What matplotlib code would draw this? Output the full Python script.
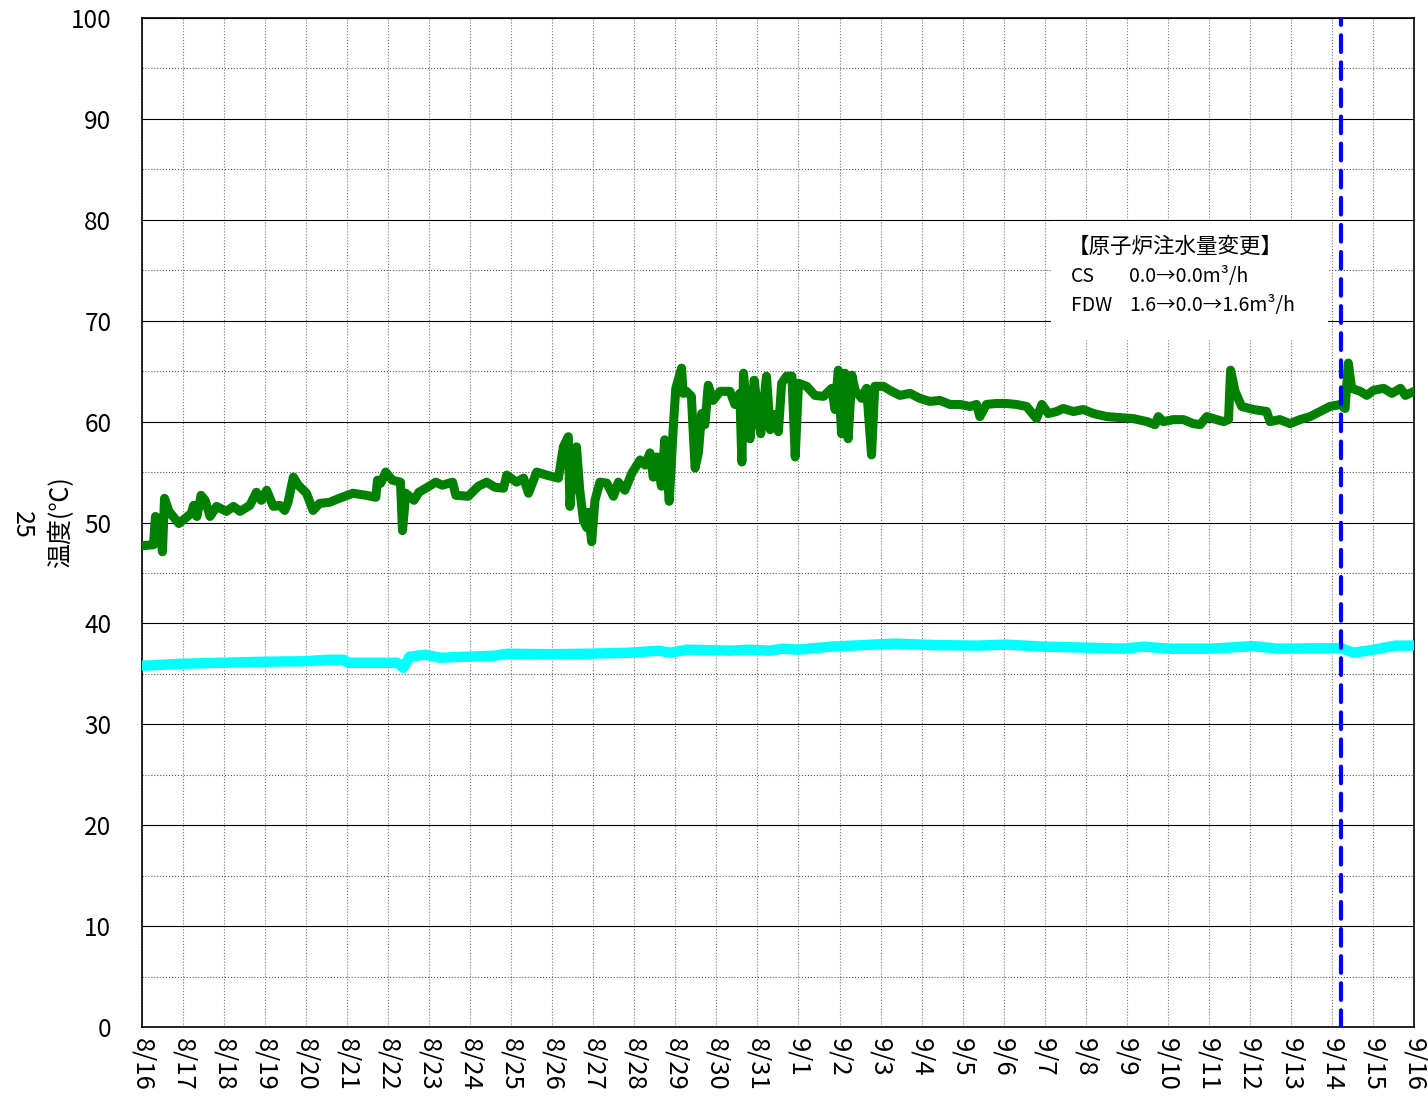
import matplotlib
matplotlib.use('Agg')
import matplotlib.pyplot as plt
from matplotlib.patches import Rectangle

plt.rcParams['font.family'] = ['Noto Sans CJK JP', 'DejaVu Sans']

# days since 8/16 00:00
green_day = [0.0, 0.28, 0.33, 0.41, 0.5, 0.55, 0.66, 0.9, 1.2, 1.26, 1.34, 1.44, 1.54, 1.66, 1.82,
             2.06, 2.23, 2.39, 2.63, 2.79, 2.91, 3.04, 3.2, 3.36, 3.48, 3.56, 3.69, 3.81, 4.01, 4.17,
             4.33, 4.57, 4.81, 5.14, 5.46, 5.7, 5.74, 5.82, 5.94, 6.1, 6.3, 6.35, 6.43, 6.63, 6.75,
             6.96, 7.16, 7.32, 7.57, 7.65, 7.95, 8.2, 8.4, 8.6, 8.81, 8.89, 9.13, 9.3, 9.42, 9.62, 9.86,
             10.15, 10.27,
             10.39, 10.43, 10.51, 10.59, 10.67, 10.76, 10.84, 10.88, 10.96, 11.04, 11.16, 11.33, 11.49,
             11.61, 11.77, 11.94, 12.14, 12.26, 12.38, 12.46, 12.54, 12.66, 12.74, 12.85, 12.95, 13.01,
             13.15, 13.19, 13.27, 13.39, 13.48, 13.56, 13.64, 13.72, 13.8, 13.92, 14.09, 14.33, 14.45,
             14.57, 14.62, 14.66, 14.74, 14.82, 14.92, 15.02, 15.08, 15.22, 15.31, 15.43, 15.51, 15.59,
             15.71, 15.84, 15.92, 16.0, 16.2, 16.4, 16.61, 16.81, 16.89, 16.97, 17.05, 17.13, 17.21,
             17.3, 17.38, 17.54, 17.66, 17.78, 17.86, 18.07, 18.23, 18.47, 18.72, 18.96, 19.2, 19.45,
             19.69, 19.94, 20.18, 20.34, 20.42, 20.58, 20.83, 21.07, 21.31, 21.56, 21.8, 21.93, 22.09,
             22.29, 22.45, 22.7, 22.94, 23.19, 23.51, 23.84, 24.16, 24.49, 24.69, 24.77, 24.89, 25.14,
             25.38, 25.62, 25.79, 25.95, 26.19, 26.36, 26.48, 26.53, 26.64, 26.8, 27.09, 27.41, 27.49,
             27.73, 27.98, 28.22, 28.47, 28.71, 28.95, 29.2, 29.32, 29.4, 29.48, 29.69, 29.85, 30.01,
             30.26, 30.46, 30.67, 30.79, 31.0]
green_val = [47.7, 47.8, 50.6, 50.2, 47.1, 52.4, 51.1, 49.9, 50.9, 51.7, 50.6, 52.7, 52.2, 50.6, 51.6,
             51.1, 51.6, 51.1, 51.7, 53.0, 52.2, 53.2, 51.6, 51.7, 51.2, 52.0, 54.5, 53.7, 52.9, 51.2,
             51.9, 52.0, 52.4, 52.9, 52.7, 52.5, 54.2, 53.9, 55.0, 54.2, 54.0, 49.2, 52.9, 52.2, 53.0,
             53.5, 54.0, 53.7, 54.0, 52.7, 52.6, 53.6, 54.0, 53.5, 53.4, 54.7, 54.0, 54.4, 52.9, 55.0, 54.7,
             54.4, 57.5,
             58.5, 51.6, 55.9, 57.5, 53.2, 50.2, 49.5, 51.0, 48.1, 52.2, 54.0, 53.9, 52.6,
             54.0, 53.2, 54.9, 56.2, 55.7, 56.9, 54.5, 56.5, 53.6, 58.2, 52.1, 59.5, 63.3,
             65.3, 62.8, 63.0, 62.5, 55.4, 56.9, 60.8, 59.7, 63.6, 62.1, 63.0, 63.0, 61.7,
             62.8, 56.0, 64.8, 61.2, 58.3, 64.1, 60.7, 58.8, 64.5, 59.2, 60.7, 59.0, 63.8,
             64.5, 64.5, 56.5, 63.8, 63.5, 62.6, 62.5, 63.3, 61.2, 65.1, 58.8, 64.8, 58.3,
             64.6, 63.1, 62.3, 63.3, 56.7, 63.5, 63.5, 63.1, 62.6, 62.8, 62.3, 62.0, 62.1,
             61.7, 61.7, 61.5, 61.7, 60.5, 61.7, 61.8, 61.8, 61.7, 61.5, 60.3, 61.7, 60.8,
             61.0, 61.3, 61.0, 61.2, 60.8, 60.5, 60.4, 60.3, 60.0, 59.7, 60.5, 60.0, 60.2,
             60.2, 59.8, 59.7, 60.5, 60.2, 60.0, 60.2, 65.1, 63.0, 61.5, 61.2, 61.0, 60.0,
             60.2, 59.8, 60.2, 60.5, 61.0, 61.5, 61.7, 61.3, 65.8, 63.3, 63.0, 62.6, 63.1,
             63.3, 62.8, 63.3, 62.6, 63.0]

cyan_day = [0, 0.95, 1.94, 2.93, 3.93, 4.53, 4.92, 5.02, 5.92, 6.22, 6.37, 6.52, 6.91, 7.26, 7.91,
            8.6, 8.9, 9.9, 10.9, 11.89, 12.59, 12.88, 13.28, 14.37, 14.77, 15.3, 15.6, 16.0, 16.8,
            18.34, 19.35, 20.36, 21.07, 21.98, 23.0, 23.91, 24.42, 25.03, 26.05, 27.07, 27.68,
            29.22, 29.52, 30.03, 30.54, 31.0]
cyan_val = [35.8, 36.0, 36.1, 36.2, 36.25, 36.4, 36.4, 36.1, 36.1, 36.1, 35.6, 36.7, 36.9, 36.6, 36.7,
            36.8, 37.0, 36.95, 37.0, 37.1, 37.3, 37.1, 37.4, 37.3, 37.4, 37.3, 37.5, 37.4, 37.7,
            38.0, 37.85, 37.8, 37.9, 37.7, 37.6, 37.5, 37.7, 37.5, 37.5, 37.75, 37.5,
            37.55, 37.1, 37.4, 37.8, 37.8]

change_day = 29.22  # 9/14 injection change

tick_labels = ['8/%d' % d for d in range(16, 32)] + ['9/%d' % d for d in range(1, 17)]

fig = plt.figure(figsize=(14.28, 11.04), dpi=100)
ax = fig.add_axes([0.0994, 0.0697, 0.8908, 0.914])

ax.plot(green_day, green_val, color='#008000', lw=6.5, solid_joinstyle='round',
        solid_capstyle='round', zorder=4)
ax.plot(cyan_day, cyan_val, color='#00ffff', lw=7.5, solid_joinstyle='round', zorder=4)
ax.axvline(change_day, color='#0000ff', lw=3, dashes=(4, 2.5), dash_capstyle='round', zorder=5)

ax.set_xlim(0, 31)
ax.set_ylim(0, 100)
ax.set_xticks(range(0, 32))
ax.set_xticklabels(tick_labels, rotation=270, fontsize=18.5)
ax.set_yticks(range(0, 101, 10))
ax.set_yticks(range(5, 100, 10), minor=True)
ax.tick_params(axis='y', labelsize=17.5, length=0, pad=22)
ax.tick_params(axis='x', length=0, pad=8)
ax.tick_params(which='minor', length=0)

ax.grid(axis='y', which='major', color='black', lw=0.8, ls='-')
ax.grid(axis='y', which='minor', color='#555555', lw=0.8, ls=':')
ax.grid(axis='x', which='major', color='#777777', lw=0.8, ls=':')
for s in ax.spines.values():
    s.set_color('black')
    s.set_linewidth(1.2)

ax.set_ylabel('温度(℃)', fontsize=18)
ax.yaxis.set_label_coords(-0.0535, 0.5)
fig.text(22 / 1428, 1 - 525 / 1104, '25', rotation=270, fontsize=18, ha='center', va='center')

# note box
ax.add_patch(Rectangle((22.15, 68.1), 6.75, 11.75, facecolor='white', edgecolor='none', zorder=3))
ax.text(22.55, 77.3, '【原子炉注水量変更】', fontsize=15.5, va='center', zorder=6)
ax.text(22.65, 74.4, 'CS', fontsize=14, va='center', zorder=6)
ax.text(24.05, 74.4, '0.0→0.0m³/h', fontsize=14, va='center', zorder=6)
ax.text(22.65, 71.55, 'FDW', fontsize=14, va='center', zorder=6)
ax.text(24.05, 71.55, '1.6→0.0→1.6m³/h', fontsize=14, va='center', zorder=6)

fig.savefig('out.png', dpi=100)
